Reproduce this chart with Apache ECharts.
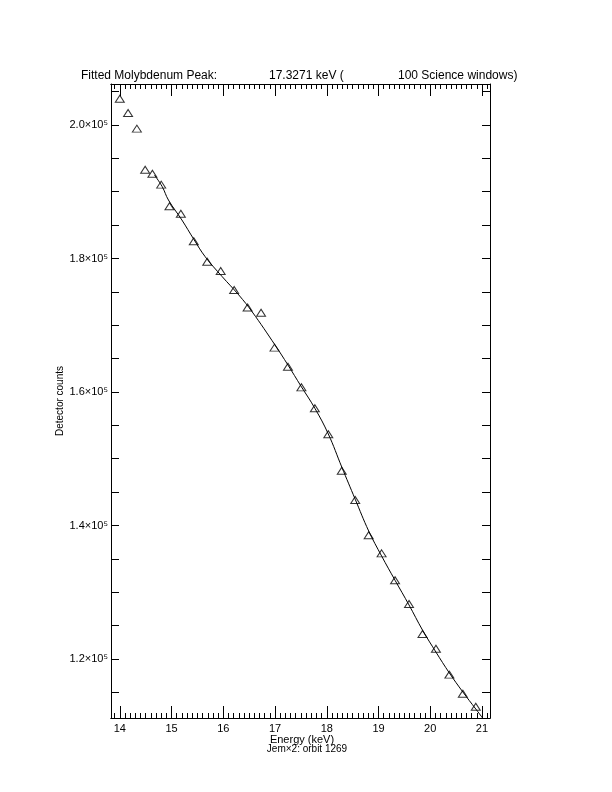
<!DOCTYPE html>
<html><head><meta charset="utf-8">
<script src="https://cdn.jsdelivr.net/npm/echarts@6/dist/echarts.min.js"></script>
<style>html,body{margin:0;padding:0;background:#fff;}#c{width:612px;height:792px;}</style>
</head><body><div id="c"></div>
<script>
// Measured data points (energy in keV, detector counts)
const energy = [14.00,14.16,14.33,14.49,14.63,14.80,14.96,15.18,15.43,15.69,15.95,16.21,16.47,16.73,16.99,17.25,17.51,17.77,18.03,18.29,18.55,18.81,19.06,19.32,19.59,19.85,20.11,20.37,20.63,20.88];
const counts = [203940,201800,199450,193300,192700,191060,187820,186710,182580,179520,178130,175280,172660,171880,166640,163790,160700,157560,153660,148210,143820,138530,135830,131790,128240,123740,121540,117650,114800,112850];
// Fitted curve
const fitEnergy = [14.67,14.82,14.94,15.20,15.43,15.65,15.98,16.30,16.56,17.00,17.25,17.50,17.77,18.03,18.29,18.55,18.81,19.06,19.32,19.59,19.85,20.11,20.37,20.63,20.88,21.10];
const fitCounts = [192510,190760,188760,185770,182880,180270,177270,174530,171990,167040,164040,160900,157560,153710,148760,143930,139180,135430,131790,128090,124340,121040,117900,115060,112510,110260];
// Tick values
const xMajorTicks = [14,15,16,17,18,19,20,21];
const xMinorTicks = [];
for (let i = 139; i <= 211; i++) { if (i % 10 !== 0) xMinorTicks.push(i / 10); }
const yLabelTicks = [120000,140000,160000,180000,200000];
const yTicks = [115000,120000,125000,130000,135000,140000,145000,150000,155000,160000,165000,170000,175000,180000,185000,190000,195000,200000,205000];

const X_MIN = 13.83, X_MAX = 21.155, Y_MIN = 111160, Y_MAX = 206140;
const FONT = 'Liberation Sans';
const axisLine = { show: true, onZero: false, lineStyle: { color: '#000', width: 1 } };

function xAxisDef(pos, ticks, len, labels) {
  return {
    type: 'value', position: pos, min: X_MIN, max: X_MAX,
    axisLine: axisLine,
    axisTick: { show: true, inside: true, length: len, customValues: ticks, lineStyle: { color: '#000', width: 1 } },
    axisLabel: labels ? { show: true, customValues: xMajorTicks, color: '#000', fontFamily: FONT, fontSize: 11, margin: 5 } : { show: false },
    splitLine: { show: false }
  };
}
function yAxisDef(pos, labels) {
  return {
    type: 'value', position: pos, min: Y_MIN, max: Y_MAX,
    axisLine: axisLine,
    axisTick: { show: true, inside: true, length: 8, customValues: yTicks, lineStyle: { color: '#000', width: 1 } },
    axisLabel: labels ? { show: true, customValues: yLabelTicks, color: '#000', fontFamily: FONT, fontSize: 11, margin: 3,
      formatter: v => (v / 1e5).toFixed(1) + '×10⁵' } : { show: false },
    splitLine: { show: false }
  };
}

const chart = echarts.init(document.getElementById('c'), null, { renderer: 'canvas' });
chart.setOption({
  backgroundColor: '#fff',
  animation: false,
  grid: { left: 111, top: 84, width: 379, height: 634, containLabel: false },
  xAxis: [
    xAxisDef('bottom', xMajorTicks, 12, true),
    xAxisDef('bottom', xMinorTicks, 5, false),
    xAxisDef('top', xMajorTicks, 12, false),
    xAxisDef('top', xMinorTicks, 5, false)
  ],
  yAxis: [ yAxisDef('left', true), yAxisDef('right', false) ],
  graphic: [
    { type: 'text', left: 81, top: 70, style: { text: 'Fitted Molybdenum Peak:', fill: '#000', font: '12px ' + FONT } },
    { type: 'text', left: 269, top: 70, style: { text: '17.3271 keV (', fill: '#000', font: '12px ' + FONT } },
    { type: 'text', left: 398, top: 70, style: { text: '100 Science windows)', fill: '#000', font: '12px ' + FONT } },
    { type: 'text', x: 60, y: 401, rotation: Math.PI / 2, style: { text: 'Detector counts', fill: '#000', font: '10px ' + FONT, align: 'center', verticalAlign: 'middle' } },
    { type: 'text', x: 302, y: 740, style: { text: 'Energy (keV)', fill: '#000', font: '11px ' + FONT, align: 'center', verticalAlign: 'middle' } },
    { type: 'text', x: 307, y: 749, style: { text: 'Jem×2: orbit 1269', fill: '#000', font: '10px ' + FONT, align: 'center', verticalAlign: 'middle' } }
  ],
  series: [
    {
      type: 'line', xAxisIndex: 0, yAxisIndex: 0,
      data: fitEnergy.map((e, i) => [e, fitCounts[i]]),
      showSymbol: false, smooth: 0.4, clip: true,
      lineStyle: { color: '#000', width: 1 }
    },
    {
      type: 'scatter', xAxisIndex: 0, yAxisIndex: 0,
      data: energy.map((e, i) => [e, counts[i]]),
      symbol: 'triangle', symbolSize: [9, 7],
      itemStyle: { color: 'rgba(0,0,0,0)', borderColor: '#000', borderWidth: 1 }
    }
  ]
});
</script>
</body></html>
